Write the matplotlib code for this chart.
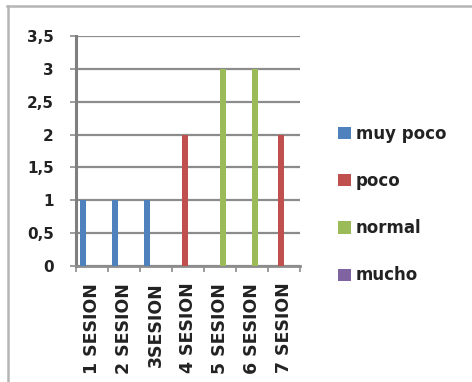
import numpy as np
import matplotlib.pyplot as plt
from matplotlib.lines import Line2D
from matplotlib.ticker import FixedLocator

# --- datos ---
sesiones = ["1 SESION", "2 SESION", "3SESION", "4 SESION", "5 SESION", "6 SESION", "7 SESION"]
muy_poco = [1, 1, 1, 0, 0, 0, 0]
poco = [0, 0, 0, 2, 0, 0, 2]
normal = [0, 0, 0, 0, 3, 3, 0]
mucho = [0, 0, 0, 0, 0, 0, 0]

series = [("muy poco", muy_poco, "#4F81BD"),
          ("poco", poco, "#C0504D"),
          ("normal", normal, "#9BBB59"),
          ("mucho", mucho, "#8064A2")]

W, H = 472, 382
fig = plt.figure(figsize=(W / 100, H / 100), dpi=100)
ax = fig.add_axes([76 / W, (H - 266) / H, (300 - 76) / W, (266 - 36) / H])

x = np.arange(len(sesiones))
bw = 1 / 5.5
for j, (nombre, vals, col) in enumerate(series):
    pos = x - 0.5 + (1.25 + j) * bw
    ax.bar(pos, vals, width=bw, color=col, label=nombre, zorder=3)

ax.set_xlim(-0.5, len(sesiones) - 0.5)
ax.set_ylim(0, 3.5)
yt = np.arange(0, 3.51, 0.5)
ax.set_yticks(yt)
ax.set_yticklabels([f"{v:g}".replace(".", ",") for v in yt])
ax.yaxis.grid(True, color="#8c8c8c", linewidth=1.6, zorder=0)
ax.set_axisbelow(True)

ax.set_xticks(x)
ax.set_xticklabels(sesiones, rotation=90, va="top")
ax.xaxis.set_minor_locator(FixedLocator(np.arange(-0.5, len(sesiones), 1)))
ax.tick_params(axis="x", which="major", length=0, pad=12)
ax.tick_params(axis="x", which="minor", length=4, width=1.2, color="#8c8c8c")
ax.tick_params(axis="y", length=4, width=1.2, color="#8c8c8c", pad=12)

for lab in ax.get_yticklabels():
    lab.set_fontsize(11)
    lab.set_fontweight("bold")
    lab.set_color("#222222")
for lab in ax.get_xticklabels():
    lab.set_fontsize(12.5)
    lab.set_fontweight("bold")
    lab.set_color("#222222")

for s in ["top", "right"]:
    ax.spines[s].set_visible(False)
ax.spines["left"].set_color("#7f7f7f")
ax.spines["left"].set_linewidth(2.2)
ax.spines["bottom"].set_color("#8c8c8c")
ax.spines["bottom"].set_linewidth(2)

leg = ax.legend(loc="upper left", bbox_to_anchor=(323 / W, 1 - 110 / H),
                bbox_transform=fig.transFigure, frameon=False,
                handlelength=0.75, handleheight=0.75, handletextpad=0.3,
                labelspacing=1.75, prop={"size": 12, "weight": "bold"})
for t in leg.get_texts():
    t.set_color("#222222")

# marco del grafico
fig.add_artist(Line2D([7 / W, 1], [1 - 6 / H, 1 - 6 / H], color="#b5b5b5", lw=1.8))
fig.add_artist(Line2D([8 / W, 8 / W], [0, 1 - 6 / H], color="#b5b5b5", lw=1.8))

fig.savefig("out.png", dpi=100)
